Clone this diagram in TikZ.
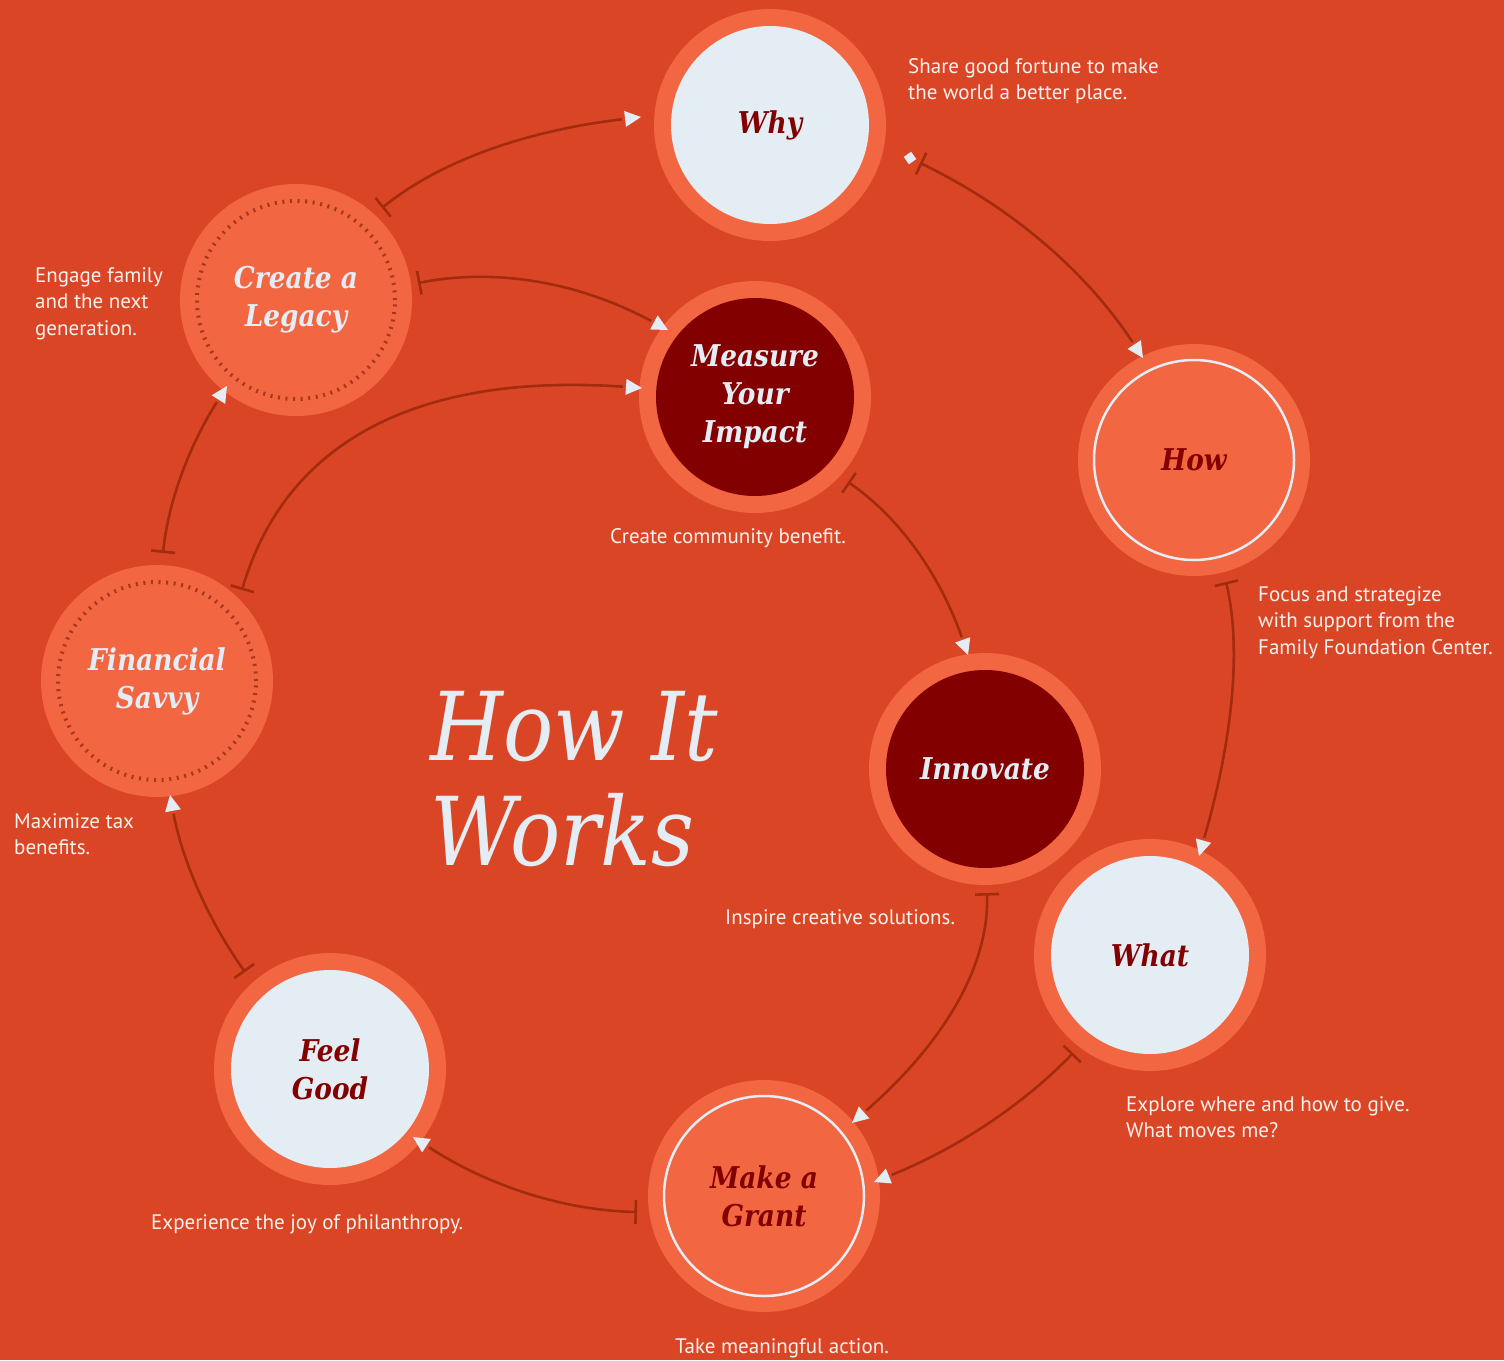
\documentclass[tikz,border=0pt]{standalone}
\usepackage{fontspec}
\setmainfont{PT Sans}
\newfontfamily\headfont{DejaVu Serif}[FakeStretch=0.88]
\usetikzlibrary{arrows.meta,calc,decorations.markings}
\definecolor{bg}{HTML}{DA4625}
\definecolor{ring}{HTML}{F26641}
\definecolor{darkred}{HTML}{820000}
\definecolor{pale}{HTML}{E4EDF4}
\definecolor{conn}{HTML}{A32B0E}
\definecolor{dots}{HTML}{A8381B}
\definecolor{bodytext}{HTML}{F8F1EE}
\newcommand\myconn[4]{%
  \draw[connline] #1 .. controls #2 and #3 .. #4;
  \path[tipmark] #1 .. controls #2 and #3 .. #4;}
\begin{document}
\begin{tikzpicture}[x=1pt,y=-1pt,
  circbase/.style={circle,fill=ring,minimum size=232pt,inner sep=0pt,align=center,
    font={\headfont\bfseries\itshape\fontsize{30}{38}\selectfont}},
  lightc/.style={circbase,text=darkred,
    path picture={\fill[pale] (path picture bounding box.center) circle (99pt);}},
  darkc/.style={circbase,text=pale,
    path picture={\fill[darkred] (path picture bounding box.center) circle (99pt);}},
  ringc/.style={circbase,text=darkred,
    path picture={\draw[pale,line width=2.5pt] (path picture bounding box.center) circle (100pt);}},
  dotc/.style={circbase,text=pale,
    path picture={\draw[dots,line width=4pt,dash pattern=on 2pt off 5.6pt] (path picture bounding box.center) circle (99pt);}},
  body/.style={anchor=base west,align=left,text=bodytext,inner sep=0pt,
    font={\fontsize{21}{26.5}\selectfont}},
  connline/.style={draw=conn,line width=2.6pt,{Bar[width=24pt]}-,shorten >=19pt},
  tipmark/.style={postaction={decorate,decoration={markings,
    mark=at position 0.9999 with {\fill[pale] (0pt,0pt) -- (-16pt,8pt) -- (-16pt,-8pt) -- cycle;}}}}
]
\fill[bg] (0,0) rectangle (1504,1360);
\useasboundingbox (0,0) rectangle (1504,1360);

% circles
\node[lightc] (why) at (770,125) {Why};
\node[dotc] (legacy) at (296,300) {Create a\\Legacy};
\node[darkc] (measure) at (755,397) {Measure\\Your\\Impact};
\node[ringc] (how) at (1194,460) {How};
\node[darkc] (innovate) at (985,769) {Innovate};
\node[dotc] (savvy) at (157,681) {Financial\\Savvy};
\node[lightc] (what) at (1150,955) {What};
\node[lightc] (feel) at (330,1069) {Feel\\Good};
\node[ringc] (grant) at (764,1196) {Make a\\Grant};

% title (base anchor = last line)
\node[anchor=base west,align=left,inner sep=0pt,text=pale,
  font={\headfont\itshape\fontsize{95}{105}\selectfont}] (title) at (430,865) {How It\\Works};

% connectors
\myconn{($(legacy)+(86,-92)$)}{(439.7,161)}{(526,130.7)}{($(why)+(-129,-8)$)}
\myconn{($(legacy)+(122,-17)$)}{(497.3,267.3)}{(580.7,283)}{($(measure)+(-87,-67)$)}
\myconn{($(why)+(150,38)$)}{(1012.3,207.3)}{(1086.7,272.3)}{($(how)+(-51,-102)$)}
\myconn{($(measure)+(93,85)$)}{(900,517.7)}{(940,575.3)}{($(innovate)+(-17,-114)$)}
\myconn{($(how)+(32,122)$)}{(1241.7,648)}{(1232.7,739.3)}{($(what)+(49,-99)$)}
\myconn{($(savvy)+(85,-91)$)}{(286,440)}{(419.3,372.7)}{($(measure)+(-113,-9)$)}
\myconn{($(savvy)+(6,-128)$)}{(168.3,500.7)}{(189.7,445)}{($(legacy)+(-69,86)$)}
\myconn{($(innovate)+(2,124)$)}{(989.3,965.7)}{(944.3,1042.3)}{($(grant)+(88,-73)$)}
\myconn{($(what)+(-77,98)$)}{(1022,1106)}{(955.7,1149)}{($(grant)+(110,-14)$)}
\myconn{($(grant)+(-127,16)$)}{(562.3,1210.3)}{(487.7,1185.3)}{($(feel)+(83,68)$)}
\myconn{($(feel)+(-85,-97)$)}{(207.3,919)}{(182.3,860)}{($(savvy)+(13,114)$)}

\node[fill=pale,minimum size=9pt,inner sep=0pt,rotate=35] (sq) at (910,158) {};

% descriptions (base anchor = last line)
\node[body] (t1) at (908,99.5) {Share good fortune to make\\the world a better place.};
\node[body] (t2) at (35,335) {Engage family\\and the next\\generation.};
\node[body] (t3) at (610,543) {Create community benefit.};
\node[body] (t4) at (1258,654) {Focus and strategize\\with support from the\\Family Foundation Center.};
\node[body] (t5) at (14,854.5) {Maximize tax\\benefits.};
\node[body] (t6) at (725,924) {Inspire creative solutions.};
\node[body] (t7) at (1126,1137.5) {Explore where and how to give.\\What moves me?};
\node[body] (t8) at (151,1229) {Experience the joy of philanthropy.};
\node[body] (t9) at (675,1353) {Take meaningful action.};
\end{tikzpicture}
\end{document}
